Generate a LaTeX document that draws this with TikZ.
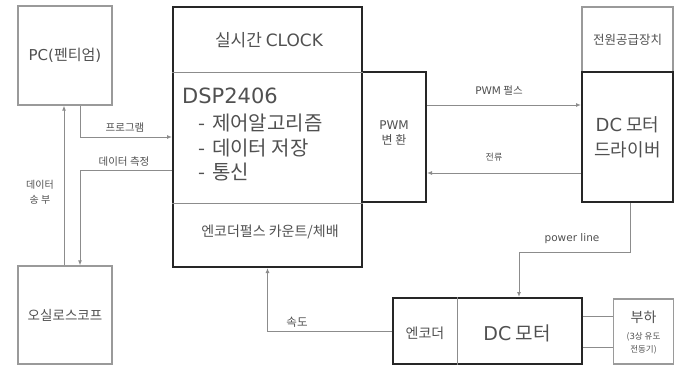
\documentclass[tikz,border=0pt]{standalone}
\usepackage{fontspec}
\setmainfont{Noto Sans CJK KR}
\newfontfamily\lat{DejaVu Sans}
\usetikzlibrary{arrows.meta,calc}
\definecolor{txt}{HTML}{505050}
\definecolor{ln}{HTML}{8C8C8C}
\definecolor{bd}{HTML}{262626}
\definecolor{tb}{HTML}{9A9A9A}
\begin{document}
\begin{tikzpicture}[x=1pt,y=-1pt,
  lbl/.style={text=txt, inner sep=0pt},
  thinbox/.style={draw=tb, line width=1.2pt, inner sep=0pt, text=txt},
  thickbox/.style={draw=bd, line width=2pt, inner sep=0pt, text=txt},
  conn/.style={draw=ln, line width=1pt},
  arr/.style={conn, -{Latex[length=5pt,width=4pt]}},
  divider/.style={draw=ln, line width=0.9pt}]
\useasboundingbox (0,0) rectangle (675,367);

% boxes
\node[thinbox, minimum width=94pt, minimum height=99pt, font=\fontsize{15}{18}\selectfont] (pc) at (65,55.5) {{\lat PC(}펜티엄{\lat )}};
\node[thinbox, minimum width=94pt, minimum height=98pt, font=\fontsize{13.5}{16}\selectfont] (osc) at (65,315) {오실로스코프};
\node[thickbox, minimum width=189pt, minimum height=260pt] (dsp) at (267.5,137) {};
\node[thickbox, minimum width=64pt, minimum height=130pt] (pwm) at (394,137) {};
\node[thinbox, minimum width=91pt, minimum height=65pt, font=\fontsize{12.5}{15}\selectfont] (psu) at (627.5,39.5) {전원공급장치};
\node[thickbox, minimum width=91pt, minimum height=130pt] (drv) at (627.5,137) {};
\node[thickbox, minimum width=189pt, minimum height=66pt] (motor) at (487.5,331) {};
\node[thinbox, minimum width=60pt, minimum height=65pt] (load) at (643.5,331.5) {};

% dividers
\draw[divider] (dsp.west |- 0,72) -- (dsp.east |- 0,72);
\draw[divider] (dsp.west |- 0,203) -- (dsp.east |- 0,203);
\draw[divider] (motor.north -| 457,0) -- (motor.south -| 457,0);

% texts inside
\node[lbl, font=\fontsize{17}{20}\selectfont] (clk) at (269,40) {실시간 {\lat CLOCK}};
\node[lbl, anchor=west, font=\lat\fontsize{21}{24}\selectfont] (d0) at (182,96) {DSP2406};
\node[lbl, anchor=west, font=\fontsize{20}{24}\selectfont] (d1) at (198,123) {-\hspace{7pt}제어알고리즘};
\node[lbl, anchor=west, font=\fontsize{20}{24}\selectfont] (d2) at (198,148) {-\hspace{7pt}데이터 저장};
\node[lbl, anchor=west, font=\fontsize{20}{24}\selectfont] (d3) at (198,172) {-\hspace{7pt}통신};
\node[lbl, font=\fontsize{14}{16}\selectfont] (enc) at (270,232) {엔코더펄스 카운트/체배};
\node[lbl, align=center, font=\fontsize{12}{15}\selectfont] (pwmt) at (394,133) {{\lat PWM}\\변 환};
\node[lbl, align=center, font=\fontsize{18}{25}\selectfont] (drvt) at (627.5,137) {{\lat DC} 모터\\드라이버};
\node[lbl, font=\fontsize{14}{16}\selectfont] (enct) at (425,333) {엔코더};
\node[lbl, font=\fontsize{19}{22}\selectfont] (mott) at (517,333) {{\lat DC} 모터};
\node[lbl, font=\fontsize{14}{16}\selectfont] (loadt) at (643.5,317) {부하};
\node[lbl, align=center, font=\fontsize{8.5}{13}\selectfont] (loads) at (643.5,343) {({\lat 3}상 유도\\전동기)};

% connectors
\draw[arr] ([xshift=-1pt]osc.north) -- ([xshift=-1pt]pc.south);
\draw[arr] ($(pc.south)+(15,0)$) |- (dsp.west);
\coordinate (mstart) at ($(dsp.west)+(0,33)$);
\draw[arr] (mstart) -| ($(osc.north)+(15,0)$);
\coordinate (pstart) at ($(pwm.east)+(0,-32)$);
\draw[arr] (pstart) -- (pstart -| drv.west);
\coordinate (cstart) at ($(drv.west)+(0,36)$);
\draw[arr] (cstart) -- (cstart -| pwm.east);
\draw[arr] ($(drv.south)+(2.5,0)$) -- ++(0,49) -| ($(motor.north)+(31.5,0)$);
\draw[arr] (motor.west) -| (dsp.south);
\coordinate (l1) at ($(motor.east)+(0,-15)$);
\coordinate (l2) at ($(motor.east)+(0,16)$);
\draw[conn] (l1) -- (l1 -| load.west);
\draw[conn] (l2) -- (l2 -| load.west);

% connector labels
\node[lbl, font=\fontsize{10.5}{12}\selectfont] at (125,128) {프로그램};
\node[lbl, font=\fontsize{10.5}{12}\selectfont] at (124,162) {데이터 측정};
\node[lbl, align=center, font=\fontsize{10}{15}\selectfont] at (40,192) {데이터\\송 부};
\node[lbl, font=\fontsize{10.5}{12}\selectfont] at (499,91) {{\lat PWM} 펄스};
\node[lbl, font=\fontsize{9}{11}\selectfont] at (494,157) {전류};
\node[lbl, font=\lat\fontsize{10.5}{12}\selectfont] at (572,239) {power line};
\node[lbl, font=\fontsize{11.5}{13}\selectfont] at (297,322) {속도};
\end{tikzpicture}
\end{document}
